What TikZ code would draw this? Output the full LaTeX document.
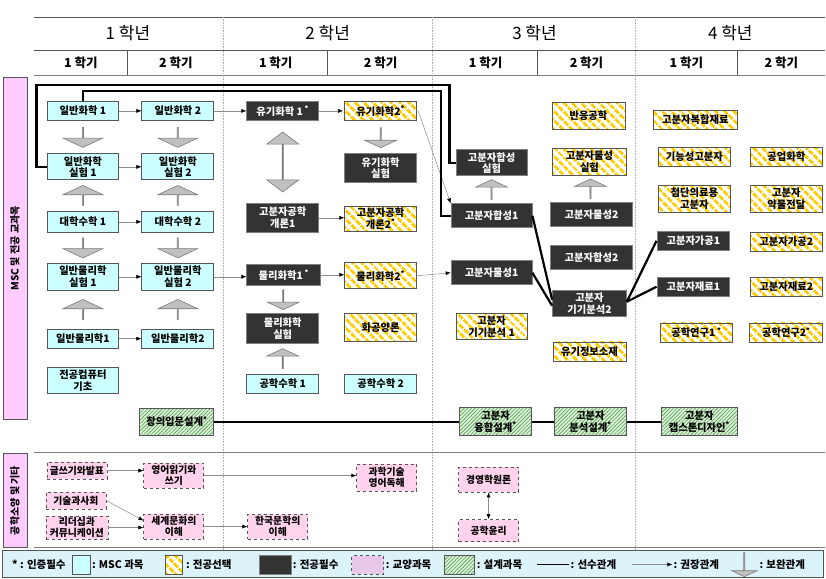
\documentclass[tikz,border=0pt]{standalone}
\usepackage{fontspec}
\setmainfont{Noto Sans CJK KR}
\usepackage{tikz}
\usetikzlibrary{shapes.arrows, arrows.meta, patterns.meta, positioning}
\definecolor{mscc}{HTML}{CCFFFF}
\definecolor{reqc}{HTML}{333333}
\definecolor{ylw}{HTML}{FFCC00}
\definecolor{libc}{HTML}{FFD3EC}
\definecolor{libl}{HTML}{E8C8E8}
\definecolor{sidec}{HTML}{FFCCFF}
\definecolor{grnbg}{HTML}{DDF2D8}
\definecolor{grnln}{HTML}{4E9A4E}
\definecolor{bordc}{HTML}{555555}
\definecolor{lnc}{HTML}{8C8C8C}
\definecolor{arrf}{HTML}{C0C0C0}
\definecolor{arrd}{HTML}{7A7A7A}
\definecolor{lgbg}{HTML}{DDF3FA}
\tikzstyle{box}=[draw=bordc, line width=0.8pt, minimum width=72pt, minimum height=19.5pt, inner sep=1pt, align=center, font=\fontsize{10.3}{11.5}\selectfont\bfseries]
\tikzstyle{msc}=[box, fill=mscc]
\tikzstyle{req}=[box, fill=reqc, draw=gray, text=white]
\tikzstyle{elec}=[box, preaction={fill=white}, pattern={Lines[angle=-45,distance=6.4pt,line width=3.2pt]}, pattern color=ylw]
\tikzstyle{dsgn}=[box, preaction={fill=grnbg}, pattern={Lines[angle=45,distance=2.6pt,line width=0.6pt]}, pattern color=grnln]
\tikzstyle{lib}=[box, fill=libc, dashed, minimum width=60pt, font=\fontsize{9.8}{11}\selectfont\bfseries]
\tikzstyle{side}=[draw=bordc, line width=0.8pt, fill=sidec, rotate=90, minimum height=24pt, font=\fontsize{10}{11}\selectfont\bfseries]
\tikzstyle{line}=[draw=lnc, line width=0.5pt, -{Latex[color=black,length=5pt,width=4pt]}]
\tikzstyle{line2}=[draw=lnc, line width=0.5pt, {Latex[color=black,length=5pt,width=4pt]}-{Latex[color=black,length=5pt,width=4pt]}]
\tikzstyle{prereq}=[draw, line width=2.2pt]
\tikzstyle{supp}=[single arrow, draw=arrd, fill=arrf, line width=0.6pt, inner sep=0pt, minimum height=20pt, minimum width=40pt, single arrow head extend=10pt, single arrow tip angle=130]
\tikzstyle{suppsm}=[supp, minimum width=32pt, single arrow head extend=8.5pt]
\tikzstyle{suppdbl}=[double arrow, draw=arrd, fill=arrf, line width=0.6pt, inner sep=0pt, minimum height=60pt, minimum width=32pt, double arrow head extend=8.5pt, double arrow tip angle=106]
\tikzstyle{yr}=[font=\fontsize{17}{17}\selectfont]
\tikzstyle{sem}=[font=\fontsize{12.5}{13}\selectfont\bfseries]
\tikzstyle{legtxt}=[anchor=west, inner sep=0pt, font=\fontsize{10.5}{11}\selectfont\bfseries]

\begin{document}
\begin{tikzpicture}[x=1pt, y=-1pt]
	\path[fill=white] (0,0) rectangle (826,579);
	% header and grid
	\draw[bordc, line width=0.8pt] (34,17) -- (826,17);
	\draw[bordc, line width=0.8pt] (34,50) -- (826,50);
	\draw[gray, line width=1.5pt] (34,75.5) -- (826,75.5);
	\foreach \x in {128,328,538,738} \draw[bordc, line width=0.8pt] (\x,50) -- (\x,75);
	\foreach \x in {223,433,636} \draw[gray!60, densely dotted, line width=0.6pt] (\x,17) -- (\x,550);
	\draw[gray, line width=1pt] (34,453) -- (826,453);
	\draw[gray, line width=1pt] (34,548) -- (826,548);
	\node[yr] (y1) at (128,33) {1 학년};
	\node[yr] (y2) at (328,33) {2 학년};
	\node[yr] (y3) at (535,33) {3 학년};
	\node[yr] (y4) at (731,33) {4 학년};
	\node[sem] (s11) at (81,63) {1 학기};
	\node[sem] (s12) at (176,63) {2 학기};
	\node[sem] (s21) at (276,63) {1 학기};
	\node[sem] (s22) at (381,63) {2 학기};
	\node[sem] (s31) at (486,63) {1 학기};
	\node[sem] (s32) at (587,63) {2 학기};
	\node[sem] (s41) at (687,63) {1 학기};
	\node[sem] (s42) at (782,63) {2 학기};
	\node[side, minimum width=343pt] (sd1) at (15,248.5) {MSC 및 전공 교과목};
	\node[side, minimum width=94pt] (sd2) at (15,501) {공학소양 및 기타};

	% 1st and 2nd year
	\node[msc] (gc1) at (83,111) {일반화학 1};
	\node[msc] (gc2) at (178,111) {일반화학 2};
	\node[req] (oc1) at (283,111) {유기화학 1\,\textsuperscript{*}};
	\node[elec] (oc2) at (381,111) {유기화학2\textsuperscript{*}};
	\node[msc, minimum height=26pt] (gcl1) at (83,167) {일반화학\\실험 1};
	\node[msc, minimum height=26pt] (gcl2) at (178,167) {일반화학\\실험 2};
	\node[req, minimum height=29pt] (ocl) at (381,168) {유기화학\\실험};
	\node[msc, minimum height=21pt] (um1) at (83,222) {대학수학 1};
	\node[msc, minimum height=21pt] (um2) at (178,222) {대학수학 2};
	\node[req, minimum height=29pt] (pe1) at (283,218) {고분자공학\\개론1};
	\node[elec, minimum height=25pt] (pe2) at (381,219) {고분자공학\\개론2\textsuperscript{*}};
	\node[msc, minimum height=27pt] (gpl1) at (83,277) {일반물리학\\실험 1};
	\node[msc, minimum height=27pt] (gpl2) at (178,277) {일반물리학\\실험 2};
	\node[req, minimum width=74pt, minimum height=21pt] (pc1) at (284,275) {물리화학1\,\textsuperscript{*}};
	\node[elec, minimum height=26pt] (pc2) at (381,276) {물리화학2\textsuperscript{*}};
	\node[req, minimum height=30pt] (pcl) at (283,329) {물리화학\\실험};
	\node[elec, minimum height=28pt] (sc) at (381,328) {화공양론};
	\node[msc] (gp1) at (83,339) {일반물리학1};
	\node[msc] (gp2) at (178,339) {일반물리학2};
	\node[msc, minimum height=26pt] (cb) at (83,381) {전공컴퓨터\\기초};
	\node[msc] (em1) at (283,384) {공학수학 1};
	\node[msc] (em2) at (381,384) {공학수학 2};
	\node[dsgn, minimum width=74pt, minimum height=27pt] (cd) at (177,422) {창의입문설계\textsuperscript{*}};

	% 3rd year
	\node[req, minimum width=71pt, minimum height=26pt] (pscl) at (492,163) {고분자합성\\실험};
	\node[req, minimum width=81pt, minimum height=24pt] (ps1) at (492,216) {고분자합성1};
	\node[req, minimum width=81pt, minimum height=24pt] (pr1) at (492,273) {고분자물성1};
	\node[elec, minimum width=71pt, minimum height=26pt] (ia1) at (492,327) {고분자\\기기분석 1};
	\node[dsgn, minimum height=28pt] (fd) at (496,422) {고분자\\융합설계\textsuperscript{*}};
	\node[elec, minimum width=73pt, minimum height=27pt] (re) at (589,116) {반응공학};
	\node[elec, minimum width=74pt, minimum height=27pt] (prl) at (590,162) {고분자물성\\실험};
	\node[req, minimum width=82pt, minimum height=24pt] (pr2) at (592,215) {고분자물성2};
	\node[req, minimum width=82pt, minimum height=24pt] (ps2) at (592,258) {고분자합성2};
	\node[req, minimum width=74pt, minimum height=26pt] (ia2) at (590,304) {고분자\\기기분석2};
	\node[elec, minimum width=73pt] (oi) at (590,352) {유기정보소재};
	\node[dsgn, minimum height=28pt] (ad) at (591,422) {고분자\\분석설계\textsuperscript{*}};

	% 4th year
	\node[elec, minimum width=85pt] (cm) at (696,120) {고분자복합재료};
	\node[elec, minimum width=73pt] (fp) at (695,157) {기능성고분자};
	\node[elec, minimum width=73pt, minimum height=27pt] (bp) at (695,199) {첨단의료용\\고분자};
	\node[req, minimum width=73pt] (pp1) at (694,241) {고분자가공1};
	\node[req, minimum width=73pt] (pm1) at (694,287) {고분자재료1};
	\node[elec, minimum width=73pt] (er1) at (697,333) {공학연구1\,\textsuperscript{*}};
	\node[dsgn, minimum width=76pt, minimum height=28pt] (cap) at (700,422) {고분자\\캡스톤디자인\textsuperscript{*}};
	\node[elec] (ic) at (787,157) {공업화학};
	\node[elec, minimum height=27pt] (dd) at (787,199) {고분자\\약물전달};
	\node[elec] (pp2) at (787,242) {고분자가공2};
	\node[elec] (pm2) at (787,287) {고분자재료2};
	\node[elec, minimum width=73pt] (er2) at (787,333) {공학연구2\textsuperscript{*}};

	% general courses
	\node[lib, minimum height=17pt] (wp) at (77,471) {글쓰기와발표};
	\node[lib, minimum height=25pt] (rw) at (174,476) {영어읽기와\\쓰기};
	\node[lib, minimum height=27pt] (se) at (387,478) {과학기술\\영어독해};
	\node[lib, minimum height=17pt] (ts) at (76,501) {기술과사회};
	\node[lib, minimum width=62pt, minimum height=23pt] (lc) at (77,528) {리더십과\\커뮤니케이션};
	\node[lib, minimum height=25pt] (wc) at (174,527) {세계문화의\\이해};
	\node[lib, minimum height=25pt] (kl) at (278,527) {한국문학의\\이해};
	\node[lib, minimum height=25pt] (bm) at (489,480) {경영학원론};
	\node[lib, minimum height=22pt] (eth) at (489,531) {공학윤리};

	% recommended
	\draw[line] (gc1.east) -- (gc2.west);
	\draw[line] (gc2.east) -- (oc1.west);
	\draw[line] (oc1.east) -- (oc2.west);
	\draw[line] (gcl1.east) -- (gcl2.west);
	\draw[line] (um1.east) -- (um2.west);
	\draw[line] (gpl1.east) -- (gpl2.west);
	\draw[line] (gpl2.east) -- (gpl2.east -| pc1.west);
	\draw[line] (pc1.east) -- (pc1.east -| pc2.west);
	\draw[line] (pc2.east) -- (pr1.west);
	\draw[line] (gp1.east) -- (gp2.west);
	\draw[line] (pe1.east) -- (pe1.east -| pe2.west);
	\draw[line] (oc2.east) -- (ps1.north west);
	\draw[line] (wp.east) -- (wp.east -| rw.west);
	\draw[line] (rw.east) -- (rw.east -| se.west);
	\draw[line] (ts.east) -- ([yshift=6pt]wc.west);
	\draw[line] (lc.east) -- (lc.east -| wc.west);
	\draw[line] (wc.east) -- (kl.west);
	\draw[line2] (bm.south) -- (eth.north);

	% prerequisites
	\coordinate (ra) at (450,85);
	\coordinate (rb) at (441,91);
	\draw[prereq] (gcl1.west) -- ++(-10,0) |- (ra) |- (pscl.west);
	\draw[prereq] (gc1.north) |- (rb) |- (ps1.west);
	\draw[prereq] (ps1.east) -- ([yshift=4pt]ia2.west);
	\draw[prereq] (pr1.east) -- ([yshift=-2pt]ia2.west);
	\draw[prereq] ([yshift=2pt]ia2.east) -- (pp1.west);
	\draw[prereq] ([yshift=2pt]ia2.east) -- (pm1.west);
	\draw[prereq] (cd.east) -- (fd.west);
	\draw[prereq] (fd.east) -- (ad.west);
	\draw[prereq] (ad.east) -- (cap.west);

	% complementary
	\path (gc1.south) -- node[supp, shape border rotate=270] (b1) {} (gcl1.north);
	\path (gc2.south) -- node[supp, shape border rotate=270] (b2) {} (gcl2.north);
	\path (um1.north) -- node[supp, shape border rotate=90] (b3) {} (gcl1.south);
	\path (um2.north) -- node[supp, shape border rotate=90] (b4) {} (gcl2.south);
	\path (um1.south) -- node[supp, shape border rotate=270] (b5) {} (gpl1.north);
	\path (um2.south) -- node[supp, shape border rotate=270] (b6) {} (gpl2.north);
	\path (gp1.north) -- node[supp, shape border rotate=90] (b7) {} (gpl1.south);
	\path (gp2.north) -- node[supp, shape border rotate=90] (b8) {} (gpl2.south);
	\path (oc2.south) -- node[suppsm, shape border rotate=270] (b9) {} (ocl.north);
	\path (pc1.south) -- node[suppsm, shape border rotate=270] (b10) {} (pcl.north);
	\path (em1.north) -- node[suppsm, shape border rotate=90] (b11) {} (pcl.south);
	\path (ps1.north) -- node[suppsm, shape border rotate=90] (b12) {} (pscl.south);
	\path (pr2.north) -- node[suppsm, shape border rotate=90] (b13) {} (prl.south);
	\path (oc1.south) -- node[suppdbl, shape border rotate=90] (b14) {} (pe1.north);

	% legend
	\draw[draw=bordc, fill=lgbg, line width=0.8pt] (2,551) rectangle (824,578);
	\node[legtxt] (lg0) at (12,565) {* : 인증필수};
	\node[msc, minimum width=18pt, minimum height=19pt] (lg1) at (81,565.5) {};
	\node[legtxt] (lg1t) at (92,565) {: MSC 과목};
	\node[elec, minimum width=17pt, minimum height=19pt] (lg2) at (174.5,565.5) {};
	\node[legtxt] (lg2t) at (186,565) {: 전공선택};
	\node[req, minimum width=32pt, minimum height=19pt] (lg3) at (276,565.5) {};
	\node[legtxt] (lg3t) at (293,565) {: 전공필수};
	\node[lib, fill=libl, minimum width=32pt, minimum height=19pt] (lg4) at (368,565.5) {};
	\node[legtxt] (lg4t) at (386,565) {: 교양과목};
	\node[dsgn, minimum width=30pt, minimum height=19pt] (lg5) at (460,565.5) {};
	\node[legtxt] (lg5t) at (477,565) {: 설계과목};
	\coordinate (lg6a) at (537,565);
	\coordinate (lg6b) at (570,565);
	\draw[prereq, line width=1.6pt] (lg6a) -- (lg6b);
	\node[legtxt] (lg6t) at (571,565) {: 선수관계};
	\coordinate (lg7a) at (633,565);
	\coordinate (lg7b) at (673,565);
	\draw[line] (lg7a) -- (lg7b);
	\node[legtxt] (lg7t) at (674,565) {: 권장관계};
	\node[supp, shape border rotate=270, minimum height=24pt, minimum width=25pt, single arrow head extend=6.5pt] (lg8) at (745,565) {};
	\node[legtxt] (lg8t) at (760,565) {: 보완관계};
\end{tikzpicture}
\end{document}
